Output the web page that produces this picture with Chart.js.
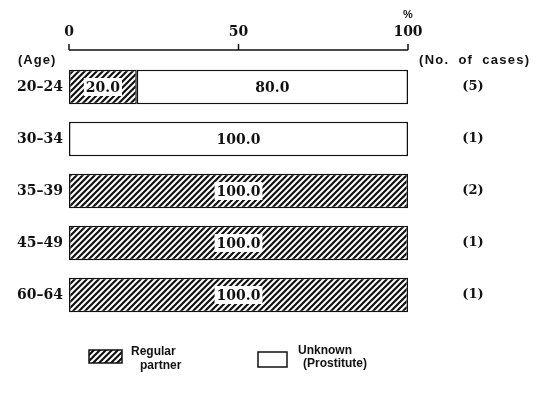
<!DOCTYPE html>
<html>
<head>
<meta charset="utf-8">
<script src="https://cdn.jsdelivr.net/npm/chart.js@4/dist/chart.umd.min.js"></script>
<style>
  html, body { margin: 0; padding: 0; background: #fff; }
  #wrap { width: 536px; height: 403px; }
</style>
</head>
<body>
<div id="wrap"><canvas id="chart" width="536" height="403"></canvas></div>
<script>
// datos
const ages = ["20\u201324", "30\u201334", "35\u201339", "45\u201349", "60\u201364"];
const regularPartner = [20, 0, 100, 100, 100];
const unknownProstitute = [80, 100, 0, 0, 0];
const numCases = [5, 1, 2, 1, 1];
const xTicks = [0, 50, 100];

const serif = "'DejaVu Serif', 'Liberation Serif', serif";
const sans = "'Liberation Sans', Arial, sans-serif";

// patrón rayado para "Regular partner"
function makeHatch() {
  const c = document.createElement("canvas");
  c.width = 6; c.height = 6;
  const g = c.getContext("2d");
  g.fillStyle = "#fff";
  g.fillRect(0, 0, 6, 6);
  g.strokeStyle = "#111";
  g.lineWidth = 2.2;
  g.beginPath();
  g.moveTo(-1, 7); g.lineTo(7, -1);
  g.moveTo(-1, 1); g.lineTo(1, -1);
  g.moveTo(5, 7); g.lineTo(7, 5);
  g.stroke();
  return g.createPattern(c, "repeat");
}
const hatch = makeHatch();

// dibuja eje superior, etiquetas y leyenda
const decorations = {
  id: "decorations",
  afterDatasetsDraw(chart) {
    const { ctx } = chart;
    const xs = chart.scales.x;
    const ys = chart.scales.y;
    const axisY = 50;
    ctx.save();
    ctx.strokeStyle = "#111";
    ctx.fillStyle = "#111";
    ctx.lineWidth = 1.5;
    ctx.beginPath();
    ctx.moveTo(xs.getPixelForValue(0), axisY);
    ctx.lineTo(xs.getPixelForValue(100), axisY);
    xTicks.forEach((t) => {
      const px = xs.getPixelForValue(t);
      ctx.moveTo(px, axisY);
      ctx.lineTo(px, axisY - 6);
    });
    ctx.stroke();

    ctx.font = "bold 14px " + serif;
    ctx.textAlign = "center";
    ctx.textBaseline = "middle";
    xTicks.forEach((t) => ctx.fillText(String(t), xs.getPixelForValue(t), 32));
    ctx.font = "bold 11px " + sans;
    ctx.fillText("%", xs.getPixelForValue(100), 15);

    ctx.font = "bold 13px " + sans;
    ctx.textAlign = "left";
    ctx.letterSpacing = "1px";
    ctx.fillText("(Age)", 18, 60);
    ctx.letterSpacing = "1.3px";
    ctx.wordSpacing = "4px";
    ctx.fillText("(No. of cases)", 419, 60);
    ctx.letterSpacing = "0px";
    ctx.wordSpacing = "0px";

    ages.forEach((a, i) => {
      const py = ys.getPixelForValue(i);
      ctx.font = "bold 14px " + serif;
      ctx.textAlign = "right";
      ctx.fillText(a, 63, py);
      ctx.font = "bold 13px " + serif;
      ctx.textAlign = "center";
      ctx.fillText("(" + numCases[i] + ")", 473, py);

      // valores dentro de las barras
      let start = 0;
      [regularPartner[i], unknownProstitute[i]].forEach((v, k) => {
        if (v > 0) {
          const cx = (xs.getPixelForValue(start) + xs.getPixelForValue(start + v)) / 2;
          const label = v.toFixed(1);
          ctx.font = "bold 14px " + serif;
          if (k === 0) {
            const w = ctx.measureText(label).width + 4;
            ctx.fillStyle = "#fff";
            ctx.fillRect(cx - w / 2, py - 9, w, 18);
          }
          ctx.fillStyle = "#111";
          ctx.textAlign = "center";
          ctx.fillText(label, cx, py + 1);
        }
        start += v;
      });
    });

    // leyenda
    ctx.lineWidth = 1.5;
    ctx.fillStyle = hatch;
    ctx.fillRect(89, 350, 33, 13);
    ctx.strokeRect(89, 350, 33, 13);
    ctx.fillStyle = "#fff";
    ctx.fillRect(258, 352, 29, 15);
    ctx.strokeRect(258, 352, 29, 15);
    ctx.fillStyle = "#111";
    ctx.font = "bold 12px " + sans;
    ctx.textAlign = "left";
    ctx.fillText("Regular", 131, 352);
    ctx.fillText("partner", 140, 366);
    ctx.fillText("Unknown", 298, 351);
    ctx.fillText("(Prostitute)", 303, 364);
    ctx.restore();
  }
};

new Chart(document.getElementById("chart"), {
  type: "bar",
  data: {
    labels: ages,
    datasets: [
      {
        label: "Regular partner",
        data: regularPartner,
        backgroundColor: hatch,
        borderColor: "#111",
        borderWidth: 1.5,
        borderSkipped: false
      },
      {
        label: "Unknown (Prostitute)",
        data: unknownProstitute,
        backgroundColor: "#fff",
        borderColor: "#111",
        borderWidth: 1.5,
        borderSkipped: false
      }
    ]
  },
  options: {
    indexAxis: "y",
    responsive: false,
    animation: false,
    layout: { padding: { left: 69, right: 128, top: 61, bottom: 82 } },
    datasets: { bar: { categoryPercentage: 1, barPercentage: 0.66 } },
    plugins: { legend: { display: false }, tooltip: { enabled: false } },
    scales: {
      x: { stacked: true, min: 0, max: 100, display: false },
      y: { stacked: true, display: false }
    }
  },
  plugins: [decorations]
});
</script>
</body>
</html>
